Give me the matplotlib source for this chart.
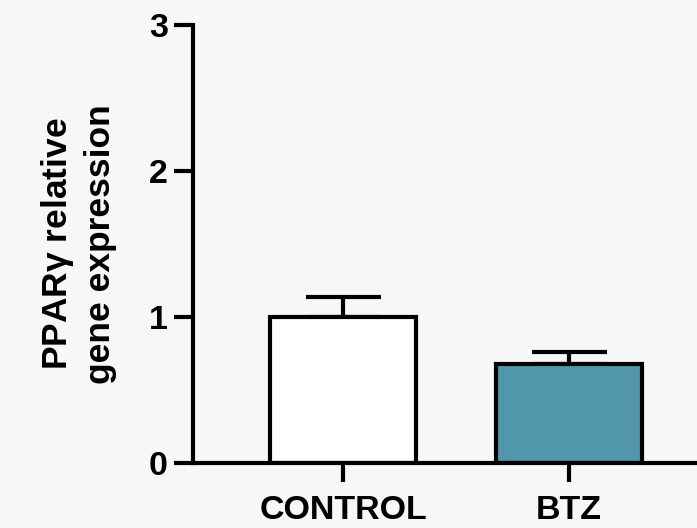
import numpy as np
import matplotlib
matplotlib.use('Agg')
import matplotlib.pyplot as plt

groups = ['CONTROL', 'BTZ']
means = [1.0, 0.68]
sem = [0.14, 0.08]
bar_colors = ['white', '#5296ab']
yticks = [0, 1, 2, 3]

plt.rcParams['font.family'] = ['Liberation Sans', 'DejaVu Sans']
plt.rcParams['font.weight'] = 'bold'
plt.rcParams['mathtext.fontset'] = 'custom'
plt.rcParams['mathtext.rm'] = 'Liberation Sans'

fig = plt.figure(figsize=(6.97, 5.28), dpi=100, facecolor='#f7f7f7')
ax = fig.add_axes([193/697, (528-463)/528, 1 - 193/697, (463-25)/528])
ax.set_facecolor('none')

x = np.arange(len(groups))
lw = 3.0
ax.bar(x, means, width=0.645, color=bar_colors, edgecolor='black', linewidth=lw, zorder=2)
ax.errorbar(x, means, yerr=[np.zeros(len(sem)), sem], fmt='none', ecolor='black',
            elinewidth=lw, capsize=27, capthick=lw, zorder=1)

ax.set_xlim(-0.664, 1.566)
ax.set_ylim(0, 3)
ax.set_yticks(yticks)
ax.set_xticks(x)
ax.set_xticklabels(groups)

for s in ['top', 'right']:
    ax.spines[s].set_visible(False)
for s in ['left', 'bottom']:
    ax.spines[s].set_linewidth(lw)
ax.spines['left'].set_bounds(0, 3)

ax.tick_params(axis='both', length=14, width=lw, labelsize=24.5)
ax.tick_params(axis='x', pad=9)
ax.tick_params(axis='y', pad=4)
for lab in ax.get_xticklabels() + ax.get_yticklabels():
    lab.set_fontweight('bold')

ax.set_ylabel('PPAR$\\mathrm{\\gamma}$ relative\ngene expression', fontsize=25.5,
              fontweight='bold', linespacing=1.3, labelpad=23)

fig.savefig('out.png', dpi=100, facecolor=fig.get_facecolor())
